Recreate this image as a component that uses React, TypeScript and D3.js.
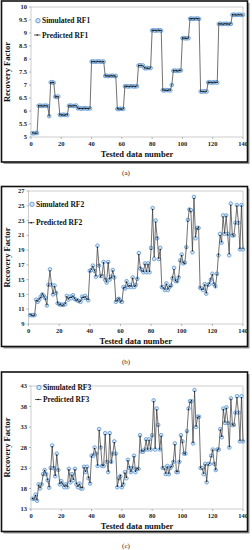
import * as d3 from "d3";

// tested data number 1..140
const testNumbers = d3.range(1, 141);
const xTicks = [0, 20, 40, 60, 80, 100, 120, 140];

const rf1Ticks = [5, 5.5, 6, 6.5, 7, 7.5, 8, 8.5, 9, 9.5, 10];
const rf2Ticks = [9, 11, 13, 15, 17, 19, 21, 23, 25, 27];
const rf3Ticks = [13, 18, 23, 28, 33, 38, 43];

const rf1Simulated = [
  5.15, 5.14, 5.16, 5.15,
  6.2, 6.21, 6.19, 6.2, 6.2, 6.21, 6.19,
  5.8,
  7.1, 7.11, 7.09,
  6.55, 6.54, 6.56,
  5.85, 5.84, 5.86, 5.85, 5.85, 5.84,
  6.2, 6.21, 6.2, 6.19, 6.2, 6.21,
  6.1, 6.11, 6.09, 6.1, 6.1, 6.11, 6.09, 6.1, 6.1,
  7.9, 7.91, 7.89, 7.9, 7.9, 7.91, 7.89, 7.9, 7.9,
  7.35, 7.36, 7.34, 7.35, 7.35, 7.36, 7.34, 7.35,
  6.08, 6.07, 6.09, 6.08, 6.08,
  6.95, 6.96, 6.94, 6.95, 6.95, 6.96, 6.94, 6.95, 6.95,
  7.75, 7.76, 7.74, 7.75,
  7.65, 7.64, 7.66, 7.65, 7.65,
  9.1, 9.11, 9.09, 9.1, 9.1, 9.11, 9.09,
  6.8, 6.79, 6.81, 6.8, 6.8, 6.79,
  7.0,
  7.55, 7.56, 7.54, 7.55, 7.55, 7.56,
  8.8, 8.81, 8.79, 8.8, 8.8,
  9.55, 9.56, 9.54, 9.55, 9.55, 9.56, 9.54,
  6.75, 6.74, 6.76, 6.75, 6.75,
  7.1, 7.11, 7.09, 7.1, 7.1, 7.11, 7.09,
  9.35, 9.36, 9.34, 9.35, 9.35, 9.36, 9.34, 9.35, 9.35,
  9.7, 9.71, 9.69, 9.7, 9.7, 9.71, 9.69, 9.7,
];

const rf1Predicted = [
  5.16, 5.15, 5.15, 5.14,
  6.21, 6.2, 6.2, 6.19, 6.21, 6.2, 6.2,
  5.81,
  7.09, 7.1, 7.1,
  6.54, 6.55, 6.55,
  5.86, 5.85, 5.85, 5.84, 5.86, 5.85,
  6.21, 6.2, 6.19, 6.2, 6.21, 6.2,
  6.11, 6.1, 6.1, 6.09, 6.11, 6.1, 6.1, 6.09, 6.11,
  7.91, 7.9, 7.9, 7.89, 7.91, 7.9, 7.9, 7.89, 7.91,
  7.36, 7.35, 7.35, 7.34, 7.36, 7.35, 7.35, 7.34,
  6.09, 6.08, 6.08, 6.07, 6.09,
  6.96, 6.95, 6.95, 6.94, 6.96, 6.95, 6.95, 6.94, 6.96,
  7.76, 7.75, 7.75, 7.74,
  7.66, 7.65, 7.65, 7.64, 7.66,
  9.11, 9.1, 9.1, 9.09, 9.11, 9.1, 9.1,
  6.81, 6.8, 6.8, 6.79, 6.81, 6.8,
  7.01,
  7.56, 7.55, 7.55, 7.54, 7.56, 7.55,
  8.81, 8.8, 8.8, 8.79, 8.81,
  9.56, 9.55, 9.55, 9.54, 9.56, 9.55, 9.55,
  6.76, 6.75, 6.75, 6.74, 6.76,
  7.11, 7.1, 7.1, 7.09, 7.11, 7.1, 7.1,
  9.36, 9.35, 9.35, 9.34, 9.36, 9.35, 9.35, 9.34, 9.36,
  9.71, 9.7, 9.7, 9.69, 9.71, 9.7, 9.7, 9.69,
];

const rf2Simulated = [
  10.2, 10.2, 10.2, 10.2, 12.3, 12.0, 12.3, 12.7, 13.0, 12.8,
  12.5, 11.5, 14.3, 16.4, 14.3, 13.0, 14.2, 13.2, 11.8, 11.7,
  11.6, 11.6, 11.6, 11.7, 12.8, 12.3, 12.7, 12.5, 12.9, 12.4,
  12.3, 12.2, 12.1, 12.0, 12.7, 12.5, 12.8, 12.5, 12.2, 16.2,
  16.3, 16.9, 16.2, 15.4, 19.6, 16.9, 15.5, 15.5, 17.4, 15.0,
  14.6, 17.4, 15.0, 15.4, 16.3, 15.3, 12.0, 12.3, 12.4, 12.1,
  12.0, 14.0, 13.8, 14.8, 14.0, 14.3, 14.0, 15.3, 14.0, 14.3,
  15.1, 18.6, 16.5, 16.3, 16.0, 17.2, 16.0, 17.2, 16.0, 19.3,
  24.7, 17.8, 23.0, 20.6, 17.8, 19.3, 14.0, 14.0, 13.6, 14.5,
  13.6, 14.0, 14.2, 15.2, 16.6, 14.8, 14.8, 15.3, 17.6, 18.4,
  17.2, 17.3, 19.4, 23.1, 24.5, 24.4, 18.7, 26.2, 20.6, 22.0,
  22.0, 13.9, 13.8, 13.6, 14.4, 13.1, 14.3, 14.4, 15.0, 15.8,
  14.4, 14.1, 15.8, 18.3, 21.2, 20.0, 23.7, 21.2, 23.7, 21.2,
  18.3, 25.3, 21.0, 21.0, 22.7, 25.1, 22.7, 19.1, 25.1, 19.1,
];

const rf2Predicted = [
  10.3, 10.2, 10.1, 10.2, 12.2, 12.1, 12.4, 12.6, 13.1, 12.8,
  12.4, 11.6, 14.2, 16.2, 14.4, 13.1, 14.1, 13.3, 11.9, 11.6,
  11.7, 11.5, 11.6, 11.8, 12.7, 12.4, 12.6, 12.6, 12.8, 12.5,
  12.2, 12.3, 12.0, 12.1, 12.6, 12.6, 12.7, 12.4, 12.3, 16.1,
  16.4, 16.8, 16.3, 15.5, 19.4, 17.0, 15.4, 15.6, 17.3, 15.1,
  14.7, 17.3, 15.1, 15.3, 16.2, 15.4, 12.1, 12.2, 12.5, 12.0,
  12.1, 13.9, 13.9, 14.7, 14.1, 14.2, 14.1, 15.2, 14.1, 14.2,
  15.2, 18.4, 16.6, 16.2, 16.1, 17.1, 16.1, 17.1, 16.1, 19.1,
  24.5, 18.1, 22.8, 20.7, 17.9, 19.1, 14.1, 13.9, 13.7, 14.4,
  13.7, 14.1, 14.1, 15.3, 16.4, 14.9, 14.7, 15.4, 17.5, 18.3,
  17.3, 17.2, 19.3, 22.9, 24.6, 24.2, 18.9, 26.0, 20.8, 21.9,
  22.1, 14.0, 13.7, 13.7, 14.3, 13.2, 14.2, 14.5, 15.1, 15.7,
  14.5, 14.0, 15.7, 18.4, 21.0, 20.1, 23.5, 21.3, 23.6, 21.1,
  18.5, 25.1, 21.1, 20.9, 22.6, 25.0, 22.8, 19.2, 25.0, 19.2,
];

const rf3Simulated = [
  15.5, 15.5, 16.5, 15.0, 19.0, 18.0, 19.0, 21.5, 22.5, 21.5,
  20.0, 18.2, 23.0, 28.5, 23.0, 21.0, 26.5, 22.5, 19.0, 19.8,
  19.0, 18.3, 19.0, 18.3, 22.8, 19.5, 21.5, 20.0, 22.8, 19.0,
  18.3, 19.2, 18.0, 18.0, 23.3, 22.0, 23.3, 20.5, 19.2, 26.0,
  26.0, 28.0, 26.5, 23.5, 32.5, 28.0, 23.5, 23.5, 31.5, 24.5,
  22.0, 31.5, 24.5, 26.5, 29.5, 26.5, 18.3, 20.5, 21.0, 18.3,
  19.0, 22.0, 20.5, 25.0, 23.0, 22.0, 23.0, 26.0, 22.0, 22.8,
  22.8, 31.0, 27.0, 27.0, 27.5, 30.0, 27.5, 30.0, 27.5, 31.0,
  39.5, 27.5, 37.5, 33.5, 27.5, 31.0, 23.0, 23.0, 21.5, 23.5,
  21.5, 23.0, 23.5, 24.5, 29.0, 22.0, 22.0, 24.5, 31.0, 29.5,
  26.5, 26.5, 32.0, 37.5, 39.3, 39.3, 29.0, 42.0, 33.0, 35.5,
  35.5, 23.0, 23.0, 21.5, 24.0, 19.5, 24.0, 24.0, 26.0, 27.5,
  24.0, 22.5, 27.5, 27.5, 32.5, 30.5, 37.5, 34.0, 37.8, 34.0,
  28.0, 40.0, 33.5, 33.5, 36.5, 40.5, 36.5, 29.5, 40.5, 29.5,
];

const rf3Predicted = [
  15.6, 15.4, 16.3, 15.2, 18.8, 18.2, 19.1, 21.3, 22.4, 21.6,
  20.2, 18.4, 22.8, 28.2, 23.2, 21.2, 26.2, 22.6, 19.2, 19.6,
  19.1, 18.5, 18.9, 18.4, 22.6, 19.7, 21.3, 20.2, 22.6, 19.2,
  18.5, 19.1, 18.2, 18.2, 23.1, 22.2, 23.1, 20.7, 19.4, 25.8,
  26.2, 27.8, 26.6, 23.7, 32.2, 28.2, 23.7, 23.6, 31.2, 24.7,
  22.2, 31.2, 24.3, 26.6, 29.2, 26.4, 18.5, 20.3, 21.2, 18.5,
  19.2, 21.8, 20.7, 24.8, 23.2, 22.1, 23.1, 25.8, 22.2, 22.9,
  22.7, 30.8, 27.2, 27.1, 27.4, 29.8, 27.6, 29.8, 27.6, 30.8,
  39.2, 27.8, 37.2, 33.3, 27.6, 30.8, 23.2, 22.8, 21.7, 23.3,
  21.6, 23.2, 23.4, 24.6, 28.7, 22.2, 22.1, 24.6, 30.8, 29.3,
  26.6, 26.4, 31.8, 37.3, 39.0, 39.5, 29.2, 41.7, 33.2, 35.3,
  35.6, 23.2, 22.8, 21.7, 23.8, 19.7, 23.8, 24.1, 25.8, 27.4,
  24.2, 22.6, 27.4, 27.6, 32.3, 30.7, 37.3, 34.2, 37.6, 34.1,
  28.2, 39.8, 33.6, 33.4, 36.4, 40.2, 36.6, 29.7, 40.2, 29.6,
];

const FONT = "'Liberation Serif', 'Times New Roman', serif";
const SIM_STROKE = "#5b95d0";
const SIM_FILL = "#d6e6f6";

interface PanelProps {
  name: string;
  caption: string;
  sim: number[];
  pred: number[];
  yTicks: number[];
  frameTop: number;
  frameBottom: number;
  left: number;
  top: number;
  bottom: number;
  legendX: number;
  legendY1: number;
  legendY2: number;
  captionY: number;
}

function Panel(p: PanelProps) {
  const right = 243;
  const x = d3.scaleLinear().domain([0, 140]).range([p.left, right]);
  const y = d3
    .scaleLinear()
    .domain([p.yTicks[0], p.yTicks[p.yTicks.length - 1]])
    .range([p.bottom, p.top]);

  const line = d3
    .line<number>()
    .x((_, i) => x(testNumbers[i]))
    .y((d) => y(d));

  return (
    <g>
      {/* frame with shadow */}
      <rect x={3.5} y={p.frameTop + 2} width={246} height={p.frameBottom - p.frameTop} fill="#9a9a9a" />
      <rect x={1.5} y={p.frameTop} width={246} height={p.frameBottom - p.frameTop} fill="#fff" stroke="#111" strokeWidth={1.6} />

      {/* plot area */}
      <rect x={p.left} y={p.top} width={right - p.left} height={p.bottom - p.top} fill="none" stroke="#b8b8b8" strokeWidth={0.7} />

      {p.yTicks.map((t) => (
        <g key={t}>
          <line x1={p.left - 2} x2={p.left} y1={y(t)} y2={y(t)} stroke="#888" strokeWidth={0.6} />
          <text x={p.left - 4} y={y(t)} dy="0.33em" textAnchor="end" fontSize={6.5} fontWeight="bold" fill="#222" fontFamily={FONT}>
            {t}
          </text>
        </g>
      ))}
      {xTicks.map((t) => (
        <g key={t}>
          <line x1={x(t)} x2={x(t)} y1={p.bottom} y2={p.bottom + 2} stroke="#888" strokeWidth={0.6} />
          <text x={x(t)} y={p.bottom + 9} textAnchor="middle" fontSize={6.5} fontWeight="bold" fill="#222" fontFamily={FONT}>
            {t}
          </text>
        </g>
      ))}

      <text
        transform={`translate(10,${(p.top + p.bottom) / 2}) rotate(-90)`}
        textAnchor="middle"
        fontSize={8.5}
        fontWeight="bold"
        fill="#111"
        fontFamily={FONT}
      >
        Recovery Factor
      </text>
      <text x={(p.left + right) / 2} y={p.bottom + 20} textAnchor="middle" fontSize={8.5} fontWeight="bold" fill="#111" fontFamily={FONT}>
        Tested data number
      </text>

      {/* simulated markers */}
      {p.sim.map((v, i) => (
        <circle key={i} cx={x(testNumbers[i])} cy={y(v)} r={1.8} fill={SIM_FILL} stroke={SIM_STROKE} strokeWidth={0.8} />
      ))}

      {/* predicted line */}
      <path d={line(p.pred) ?? ""} fill="none" stroke="#333" strokeWidth={0.7} />
      {p.pred.map((v, i) => (
        <circle key={i} cx={x(testNumbers[i])} cy={y(v)} r={0.6} fill="#111" />
      ))}

      {/* legend */}
      <circle cx={p.legendX} cy={p.legendY1} r={2.2} fill={SIM_FILL} stroke={SIM_STROKE} strokeWidth={0.9} />
      <text x={p.legendX + 4} y={p.legendY1} dy="0.35em" fontSize={7.5} fontWeight="bold" fill="#111" fontFamily={FONT}>
        Simulated {p.name}
      </text>
      <line x1={p.legendX - 4} x2={p.legendX + 2.5} y1={p.legendY2} y2={p.legendY2} stroke="#333" strokeWidth={0.8} />
      <circle cx={p.legendX - 0.8} cy={p.legendY2} r={0.8} fill="#111" />
      <text x={p.legendX + 4} y={p.legendY2} dy="0.35em" fontSize={7.5} fontWeight="bold" fill="#111" fontFamily={FONT}>
        Predicted {p.name}
      </text>

      <text x={126} y={p.captionY} dy="0.35em" textAnchor="middle" fontSize={7} fill="#222" fontFamily={FONT}>
        {p.caption}
      </text>
    </g>
  );
}

export default function App() {
  return (
    <svg width={252} height={550} style={{ position: "absolute", left: 0, top: 0, background: "#fff" }}>
      <Panel
        name="RF1"
        caption="(a)"
        sim={rf1Simulated}
        pred={rf1Predicted}
        yTicks={rf1Ticks}
        frameTop={1}
        frameBottom={162}
        left={31}
        top={7}
        bottom={137}
        legendX={38}
        legendY1={20.7}
        legendY2={35}
        captionY={173}
      />
      <Panel
        name="RF2"
        caption="(b)"
        sim={rf2Simulated}
        pred={rf2Predicted}
        yTicks={rf2Ticks}
        frameTop={186.5}
        frameBottom={346.5}
        left={28.5}
        top={191}
        bottom={324}
        legendX={32}
        legendY1={204.3}
        legendY2={222.7}
        captionY={362}
      />
      <Panel
        name="RF3"
        caption="(c)"
        sim={rf3Simulated}
        pred={rf3Predicted}
        yTicks={rf3Ticks}
        frameTop={372}
        frameBottom={531.5}
        left={31}
        top={386}
        bottom={509}
        legendX={39}
        legendY1={387.5}
        legendY2={399.5}
        captionY={546}
      />
    </svg>
  );
}
